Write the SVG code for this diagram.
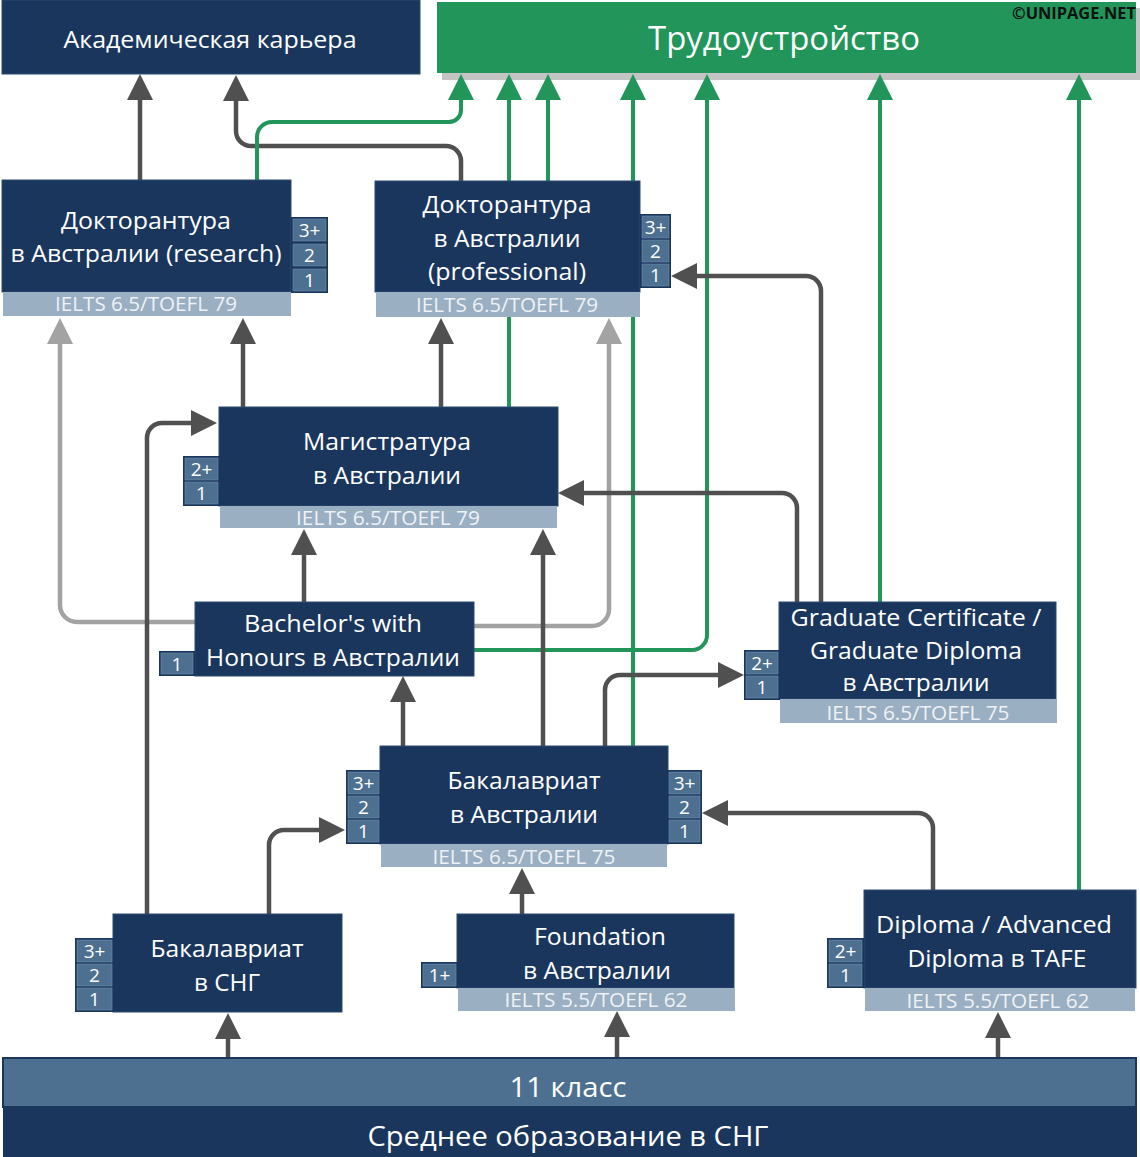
<svg xmlns="http://www.w3.org/2000/svg" width="1140" height="1157" viewBox="0 0 1140 1157">
<style>
.node{fill:#1a365d;stroke:#2c4a72;stroke-width:1}
.bar{fill:#9aafc2}
.cbg{fill:#1a365d}
.cell{fill:#4e7090;stroke:#6f8dab;stroke-width:0.6}
.t{font-family:"Open Sans","Noto Sans",sans-serif;fill:#fff;text-anchor:middle}
.n{font-size:23px}
.i{font-size:20px;fill:#eef2f6}
.b{font-size:19px}
.big{font-size:28px}
.dk{fill:none;stroke:#505050;stroke-width:4.5;marker-end:url(#ad)}
.lg{fill:none;stroke:#a3a3a3;stroke-width:4.5;marker-end:url(#al)}
.gr{fill:none;stroke:#21955a;stroke-width:4;marker-end:url(#ag)}
</style>
<defs>
<marker id="ad" viewBox="0 0 26 26" markerWidth="26" markerHeight="26" markerUnits="userSpaceOnUse" refX="2" refY="13" orient="auto"><path d="M0,0 L26,13 L0,26 Z" fill="#505050"/></marker>
<marker id="al" viewBox="0 0 26 26" markerWidth="26" markerHeight="26" markerUnits="userSpaceOnUse" refX="2" refY="13" orient="auto"><path d="M0,0 L26,13 L0,26 Z" fill="#a3a3a3"/></marker>
<marker id="ag" viewBox="0 0 26 26" markerWidth="26" markerHeight="26" markerUnits="userSpaceOnUse" refX="2" refY="13" orient="auto"><path d="M0,0 L26,13 L0,26 Z" fill="#21955a"/></marker>
</defs>
<rect width="1140" height="1157" fill="#fff"/>

<g id="employment">
<rect x="442" y="8" width="698" height="72" fill="#c4c4c4"/>
<rect x="437" y="2" width="699" height="71" fill="#21955a"/>
<text class="t" x="784" y="50" font-size="32" textLength="272" lengthAdjust="spacingAndGlyphs">Трудоустройство</text>
<text x="1074" y="19" font-family="Open Sans, Noto Sans, sans-serif" font-weight="bold" font-size="16" fill="#111" text-anchor="middle" textLength="124" lengthAdjust="spacingAndGlyphs">©UNIPAGE.NET</text>
</g>

<g id="connectors">
<path class="dk" d="M140,180 V98"/>
<path class="dk" d="M461,181 V161 A15,15 0 0 0 446,146 H251 A15,15 0 0 1 236,131 V99"/>
<path class="gr" d="M257,180 V137 A15,15 0 0 1 272,122 H449 A12,12 0 0 0 461,110 V98"/>
<path class="gr" d="M509,407 V98"/>
<path class="gr" d="M548,181 V98"/>
<path class="gr" d="M633,746 V98"/>
<path class="gr" d="M474,650 H692 A15,15 0 0 0 707,635 V98"/>
<path class="gr" d="M880,602 V98"/>
<path class="gr" d="M1079,890 V98"/>
<path class="dk" d="M243,407 V342"/>
<path class="dk" d="M441,407 V342"/>
<path class="lg" d="M195,622 H77 A17,17 0 0 1 60,605 V342"/>
<path class="lg" d="M474,626 H592 A17,17 0 0 0 609,609 V342"/>
<path class="dk" d="M304,602 V553"/>
<path class="dk" d="M543,746 V553"/>
<path class="dk" d="M797,602 V508 A15,15 0 0 0 782,493 H582"/>
<path class="dk" d="M821,602 V291 A15,15 0 0 0 806,276 H695"/>
<path class="dk" d="M605,746 V690 A15,15 0 0 1 620,675 H720"/>
<path class="dk" d="M403,746 V700"/>
<path class="dk" d="M147,914 V438 A15,15 0 0 1 162,423 H193"/>
<path class="dk" d="M269,914 V845 A15,15 0 0 1 284,830 H321"/>
<path class="dk" d="M522,914 V892"/>
<path class="dk" d="M933,890 V828 A15,15 0 0 0 918,813 H726"/>
<path class="dk" d="M228,1058 V1037"/>
<path class="dk" d="M617,1058 V1035"/>
<path class="dk" d="M998,1058 V1036"/>
</g>

<g id="academic">
<rect class="node" x="2" y="0" width="418" height="74"/>
<text class="t n" x="210" y="48" textLength="293" lengthAdjust="spacingAndGlyphs">Академическая карьера</text>
</g>

<g id="phd-research">
<rect class="node" x="2" y="180" width="289" height="112"/>
<rect class="bar" x="3" y="292" width="288" height="24"/>
<text class="t n" x="146" y="229" textLength="170" lengthAdjust="spacingAndGlyphs">Докторантура</text>
<text class="t n" x="146" y="262" textLength="271" lengthAdjust="spacingAndGlyphs">в Австралии (research)</text>
<text class="t i" x="146" y="311" textLength="182" lengthAdjust="spacingAndGlyphs">IELTS 6.5/TOEFL 79</text>
<rect class="cbg" x="291" y="217" width="37" height="76"/>
<rect class="cell" x="293" y="219" width="33" height="22"/>
<rect class="cell" x="293" y="244" width="33" height="22"/>
<rect class="cell" x="293" y="269" width="33" height="22"/>
<text class="t b" x="309.5" y="237">3+</text>
<text class="t b" x="309.5" y="262">2</text>
<text class="t b" x="309.5" y="287">1</text>
</g>

<g id="phd-professional">
<rect class="node" x="375" y="181" width="265" height="111"/>
<rect class="bar" x="376" y="292" width="264" height="25"/>
<text class="t n" x="507" y="213" textLength="169" lengthAdjust="spacingAndGlyphs">Докторантура</text>
<text class="t n" x="507" y="247" textLength="147" lengthAdjust="spacingAndGlyphs">в Австралии</text>
<text class="t n" x="507" y="280" textLength="158" lengthAdjust="spacingAndGlyphs">(professional)</text>
<text class="t i" x="507" y="312" textLength="182" lengthAdjust="spacingAndGlyphs">IELTS 6.5/TOEFL 79</text>
<rect class="cbg" x="640" y="214" width="31" height="74"/>
<rect class="cell" x="642" y="216" width="27" height="22"/>
<rect class="cell" x="642" y="240" width="27" height="22"/>
<rect class="cell" x="642" y="264" width="27" height="22"/>
<text class="t b" x="655.5" y="234">3+</text>
<text class="t b" x="655.5" y="258">2</text>
<text class="t b" x="655.5" y="282">1</text>
</g>

<g id="masters">
<rect class="node" x="219" y="407" width="339" height="99"/>
<rect class="bar" x="220" y="506" width="337" height="22"/>
<text class="t n" x="387" y="450" textLength="168" lengthAdjust="spacingAndGlyphs">Магистратура</text>
<text class="t n" x="387" y="484" textLength="148" lengthAdjust="spacingAndGlyphs">в Австралии</text>
<text class="t i" x="388" y="525" textLength="184" lengthAdjust="spacingAndGlyphs">IELTS 6.5/TOEFL 79</text>
<rect class="cbg" x="183" y="456" width="37" height="50"/>
<rect class="cell" x="185" y="458" width="33" height="22"/>
<rect class="cell" x="185" y="482" width="33" height="22"/>
<text class="t b" x="201.5" y="476">2+</text>
<text class="t b" x="201.5" y="500">1</text>
</g>

<g id="honours">
<rect class="node" x="195" y="602" width="279" height="74"/>
<text class="t n" x="333" y="632" textLength="178" lengthAdjust="spacingAndGlyphs">Bachelor's with</text>
<text class="t n" x="333" y="666" textLength="254" lengthAdjust="spacingAndGlyphs">Honours в Австралии</text>
<rect class="cbg" x="159" y="651" width="36" height="25"/>
<rect class="cell" x="161" y="653" width="32" height="21"/>
<text class="t b" x="177" y="671">1</text>
</g>

<g id="graduate-cert">
<rect class="node" x="779" y="602" width="277" height="97"/>
<rect class="bar" x="780" y="699" width="277" height="24"/>
<text class="t n" x="916" y="626" textLength="251" lengthAdjust="spacingAndGlyphs">Graduate Certificate /</text>
<text class="t n" x="916" y="659" textLength="212" lengthAdjust="spacingAndGlyphs">Graduate Diploma</text>
<text class="t n" x="916" y="691" textLength="147" lengthAdjust="spacingAndGlyphs">в Австралии</text>
<text class="t i" x="918" y="720" textLength="183" lengthAdjust="spacingAndGlyphs">IELTS 6.5/TOEFL 75</text>
<rect class="cbg" x="744" y="650" width="36" height="50"/>
<rect class="cell" x="746" y="652" width="32" height="22"/>
<rect class="cell" x="746" y="676" width="32" height="22"/>
<text class="t b" x="762" y="670">2+</text>
<text class="t b" x="762" y="694">1</text>
</g>

<g id="bachelor-au">
<rect class="node" x="380" y="746" width="288" height="98"/>
<rect class="bar" x="381" y="844" width="286" height="23"/>
<text class="t n" x="524" y="789" textLength="153" lengthAdjust="spacingAndGlyphs">Бакалавриат</text>
<text class="t n" x="524" y="823" textLength="148" lengthAdjust="spacingAndGlyphs">в Австралии</text>
<text class="t i" x="524" y="864" textLength="183" lengthAdjust="spacingAndGlyphs">IELTS 6.5/TOEFL 75</text>
<rect class="cbg" x="346" y="770" width="35" height="74"/>
<rect class="cell" x="348" y="772" width="31" height="22"/>
<rect class="cell" x="348" y="796" width="31" height="22"/>
<rect class="cell" x="348" y="820" width="31" height="22"/>
<text class="t b" x="363.5" y="790">3+</text>
<text class="t b" x="363.5" y="814">2</text>
<text class="t b" x="363.5" y="838">1</text>
<rect class="cbg" x="667" y="770" width="35" height="74"/>
<rect class="cell" x="669" y="772" width="31" height="22"/>
<rect class="cell" x="669" y="796" width="31" height="22"/>
<rect class="cell" x="669" y="820" width="31" height="22"/>
<text class="t b" x="684.5" y="790">3+</text>
<text class="t b" x="684.5" y="814">2</text>
<text class="t b" x="684.5" y="838">1</text>
</g>

<g id="bachelor-cis">
<rect class="node" x="113" y="914" width="229" height="98"/>
<text class="t n" x="227" y="957" textLength="153" lengthAdjust="spacingAndGlyphs">Бакалавриат</text>
<text class="t n" x="227" y="991" textLength="66" lengthAdjust="spacingAndGlyphs">в СНГ</text>
<rect class="cbg" x="75" y="938" width="39" height="74"/>
<rect class="cell" x="77" y="940" width="35" height="22"/>
<rect class="cell" x="77" y="964" width="35" height="22"/>
<rect class="cell" x="77" y="988" width="35" height="22"/>
<text class="t b" x="94.5" y="958">3+</text>
<text class="t b" x="94.5" y="982">2</text>
<text class="t b" x="94.5" y="1006">1</text>
</g>

<g id="foundation">
<rect class="node" x="457" y="914" width="277" height="74"/>
<rect class="bar" x="458" y="988" width="277" height="23"/>
<text class="t n" x="600" y="945" textLength="132" lengthAdjust="spacingAndGlyphs">Foundation</text>
<text class="t n" x="597" y="979" textLength="148" lengthAdjust="spacingAndGlyphs">в Австралии</text>
<text class="t i" x="596" y="1007" textLength="183" lengthAdjust="spacingAndGlyphs">IELTS 5.5/TOEFL 62</text>
<rect class="cbg" x="421" y="962" width="37" height="26"/>
<rect class="cell" x="423" y="964" width="33" height="22"/>
<text class="t b" x="439.5" y="982">1+</text>
</g>

<g id="diploma-tafe">
<rect class="node" x="864" y="890" width="272" height="98"/>
<rect class="bar" x="865" y="988" width="270" height="23"/>
<text class="t n" x="994" y="933" textLength="236" lengthAdjust="spacingAndGlyphs">Diploma / Advanced</text>
<text class="t n" x="997" y="967" textLength="179" lengthAdjust="spacingAndGlyphs">Diploma в TAFE</text>
<text class="t i" x="998" y="1008" textLength="183" lengthAdjust="spacingAndGlyphs">IELTS 5.5/TOEFL 62</text>
<rect class="cbg" x="827" y="938" width="37" height="50"/>
<rect class="cell" x="829" y="940" width="33" height="22"/>
<rect class="cell" x="829" y="964" width="33" height="22"/>
<text class="t b" x="845.5" y="958">2+</text>
<text class="t b" x="845.5" y="982">1</text>
</g>

<g id="secondary">
<rect x="3" y="1058" width="1133" height="49" fill="#4e7090" stroke="#1a365d" stroke-width="2"/>
<rect x="3" y="1107" width="1134" height="50" fill="#1a365d"/>
<text class="t big" x="568" y="1097" textLength="117" lengthAdjust="spacingAndGlyphs">11 класс</text>
<text class="t big" x="568" y="1146" textLength="401" lengthAdjust="spacingAndGlyphs">Среднее образование в СНГ</text>
</g>
</svg>
